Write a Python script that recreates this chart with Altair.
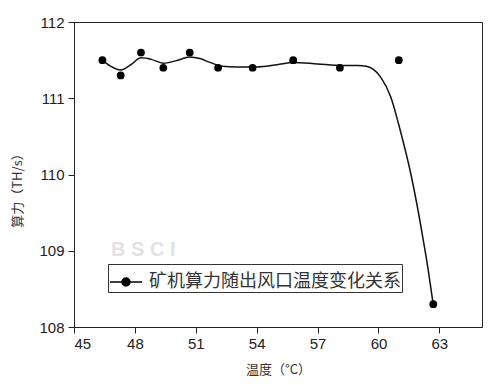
import altair as alt
import pandas as pd

# measured points
temp = [46.4, 47.3, 48.3, 49.4, 50.7, 52.1, 53.8, 55.8, 58.1, 61.0, 62.7]
hashrate = [111.5, 111.3, 111.6, 111.4, 111.6, 111.4, 111.4, 111.5, 111.4, 111.5, 108.3]

# fitted curve
curve_t = [46.4, 46.8, 47.3, 47.8, 48.3, 48.8, 49.4, 50.0, 50.7, 51.2, 51.7, 52.3, 53.0,
           54.0, 55.0, 55.8, 57.0, 58.2, 59.0, 59.4, 60.1, 60.6, 61.1, 61.6, 61.9, 62.2,
           62.45, 62.7]
curve_v = [111.50, 111.42, 111.37, 111.44, 111.53, 111.51, 111.46, 111.49, 111.54, 111.52,
           111.47, 111.42, 111.41, 111.41, 111.44, 111.47, 111.45, 111.43, 111.43, 111.42,
           111.28, 111.02, 110.55, 110.00, 109.60, 109.15, 108.75, 108.29]

x_ticks = [45 + 1.5 * i for i in range(14)]
y_ticks = [108 + 0.5 * i for i in range(9)]
series_name = "矿机算力随出风口温度变化关系"

pts = pd.DataFrame({"t": temp, "v": hashrate, "s": series_name})
crv = pd.DataFrame({"t": curve_t, "v": curve_v})

xscale = alt.Scale(domain=[45, 65.1], nice=False, zero=False)
yscale = alt.Scale(domain=[108, 112], nice=False, zero=False)

xaxis = alt.Axis(
    values=x_ticks,
    labelExpr="datum.value % 3 == 0 ? format(datum.value, 'd') : ''",
    tickSize=alt.ExprRef("datum.value % 3 == 0 ? 6 : 3"),
    title="温度（°C）",
    titleFont="Noto Sans CJK SC",
    titleFontSize=13,
    titleFontWeight="normal",
    titleColor="#333333",
    titlePadding=12,
    labelFont="Liberation Sans",
    labelFontSize=15,
    labelColor="#222222",
    labelPadding=3,
    grid=False,
    domainColor="#222222",
    tickColor="#222222",
)
yaxis = alt.Axis(
    values=y_ticks,
    labelExpr="datum.value % 1 == 0 ? format(datum.value, 'd') : ''",
    tickSize=alt.ExprRef("datum.value % 1 == 0 ? 6 : 3"),
    title="算力（TH/s）",
    titleFont="Noto Sans CJK SC",
    titleFontSize=13,
    titleFontWeight="normal",
    titleColor="#333333",
    titleX=-50,
    titleY=165,
    labelFont="Liberation Sans",
    labelFontSize=15,
    labelColor="#222222",
    labelPadding=4,
    grid=False,
    domainColor="#222222",
    tickColor="#222222",
)

line = alt.Chart(crv).mark_line(interpolate="monotone", color="#111111", strokeWidth=1.5).encode(
    x=alt.X("t:Q", scale=xscale, axis=xaxis),
    y=alt.Y("v:Q", scale=yscale, axis=yaxis),
    order="t:Q",
)

points = alt.Chart(pts).mark_point(filled=True, size=60, opacity=1).encode(
    x=alt.X("t:Q", scale=xscale),
    y=alt.Y("v:Q", scale=yscale),
    color=alt.Color(
        "s:N",
        scale=alt.Scale(range=["#000000"]),
        legend=alt.Legend(
            title=None,
            orient="none",
            legendX=34,
            legendY=242,
            direction="vertical",
            symbolType="M-1,0L1,0M-0.25,0A0.25,0.25 0 1,1 0.25,0A0.25,0.25 0 1,1 -0.25,0Z",
            symbolSize=1024,
            symbolStrokeWidth=1.5,
            symbolStrokeColor="#000000",
            symbolFillColor="#000000",
            labelFont="Noto Sans CJK SC",
            labelFontSize=18,
            labelColor="#333333",
            labelLimit=400,
            labelOffset=6,
            strokeColor="#333333",
            fillColor="#ffffff",
            padding=1,
        ),
    ),
)

watermark = alt.Chart(pd.DataFrame({"w": ["B S C I"]})).mark_text(
    font="Liberation Sans", fontSize=20, fontWeight="bold", color="#e2e2e2", align="left"
).encode(text="w:N", x=alt.value(37), y=alt.value(228))

chart = (
    alt.layer(watermark, line, points)
    .properties(
        width=408,
        height=305,
        padding={"left": 74, "top": 22, "right": 18, "bottom": 58},
        autosize=alt.AutoSizeParams(type="none"),
        background="white",
    )
    .configure_view(stroke="#222222", strokeWidth=1)
)

chart.save("out.html", embed_options={"renderer": "svg", "actions": False})
